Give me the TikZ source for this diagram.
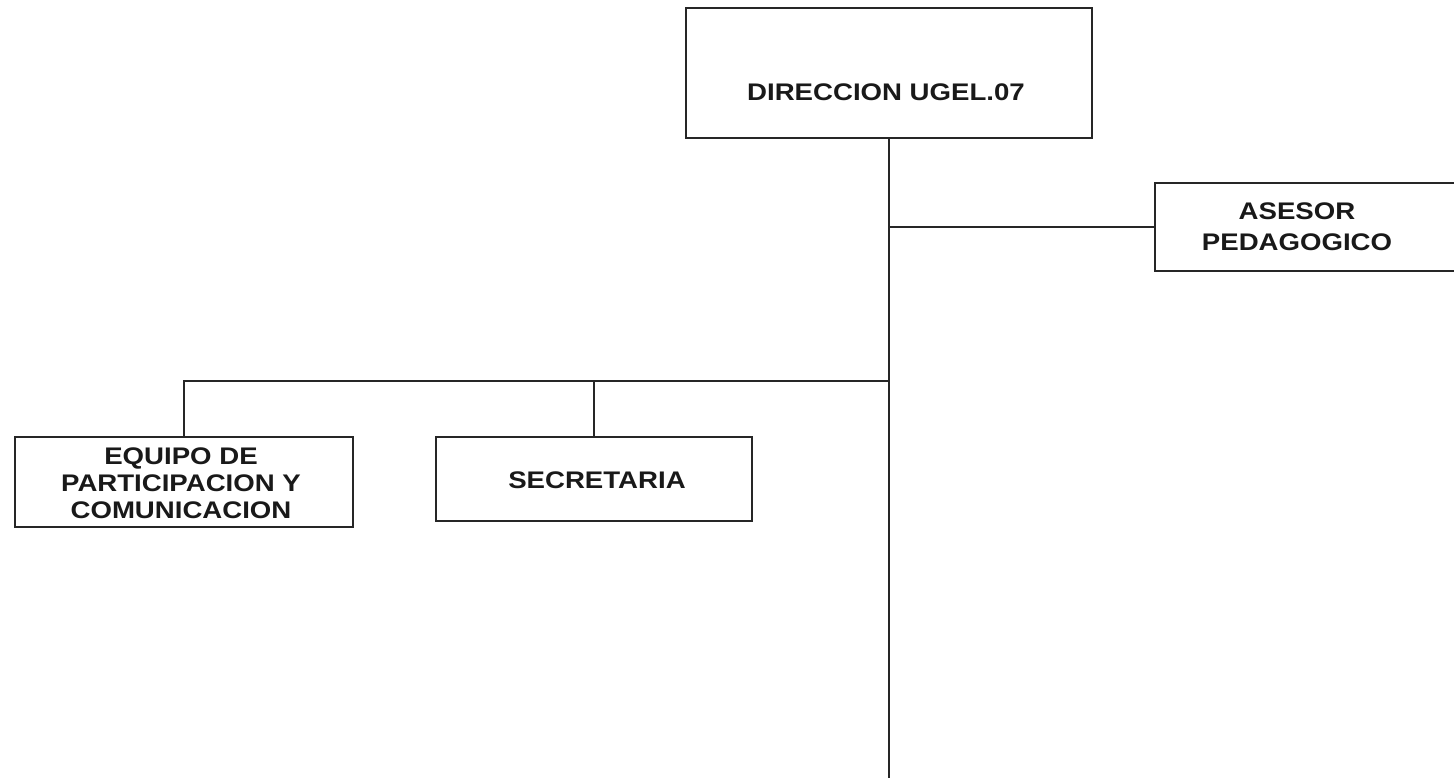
\documentclass[tikz,border=0pt]{standalone}
\usepackage{fontspec}
\newfontfamily\labfont{Liberation Sans}[FakeStretch=1.15]
\begin{document}
\begin{tikzpicture}[x=1pt,y=-1pt,
  box/.style={draw=black!85,line width=2pt,rectangle,inner sep=0pt},
  lab/.style={align=center,font=\labfont\bfseries\fontsize{24}{27}\selectfont,text=black!90,inner sep=0pt},
  conn/.style={draw=black!85,line width=2pt}]
\useasboundingbox (0,0) rectangle (1454,778);
\node[box,minimum width=406pt,minimum height=130pt] (dir) at (889,73) {};
\node[lab] (dirt) at (886,92) {DIRECCION UGEL.07};
\node[box,minimum width=300pt,minimum height=88pt] (ase) at (1305,227) {};
\node[lab,align=center] (aset) at (1297,227) {ASESOR\\[4pt]PEDAGOGICO};
\node[box,minimum width=338pt,minimum height=90pt] (eq) at (184,482) {};
\node[lab] (eqt) at (181,483) {EQUIPO DE\\PARTICIPACION Y\\COMUNICACION};
\node[box,minimum width=316pt,minimum height=84pt] (sec) at (594,479) {};
\node[lab] (sect) at (597,480) {SECRETARIA};
\coordinate (bot) at (889,778);
\coordinate (bus) at (889,381);
\draw[conn] (dir.south) -- (bot);
\draw[conn] (dir.south |- ase.west) -- (ase.west);
\draw[conn] (bus) -| (eq.north);
\draw[conn] (sec.north) -- (sec.north |- bus);
\end{tikzpicture}
\end{document}
